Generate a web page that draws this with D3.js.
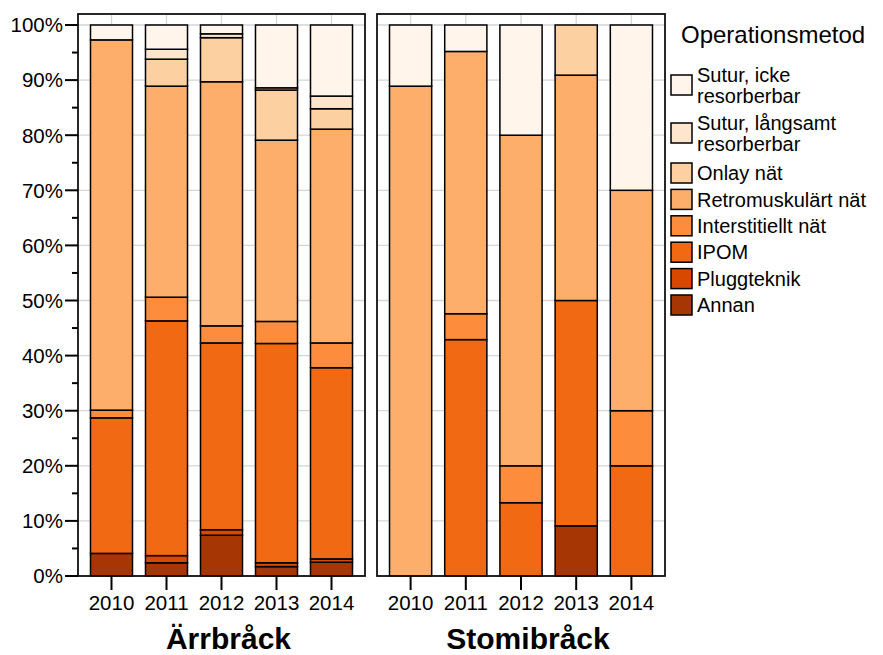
<!DOCTYPE html>
<html>
<head>
<meta charset="utf-8">
<script src="https://cdn.jsdelivr.net/npm/d3@7"></script>
<style>
  html, body { margin: 0; padding: 0; background: #fff; }
  svg { display: block; font-family: "Liberation Sans", Arial, Helvetica, sans-serif; }
</style>
</head>
<body>
<svg id="chart" width="883" height="655"></svg>
<script>
// Years on the x axis of each panel
const years = ["2010", "2011", "2012", "2013", "2014"];

// Operation methods, stacked from the bottom of each bar upwards
const methods = [
  "Annan", "Pluggteknik", "IPOM", "Interstitiellt nät",
  "Retromuskulärt nät", "Onlay nät", "Sutur, långsamt resorberbar", "Sutur, icke resorberbar"
];

// Legend labels (top to bottom), with line breaks
const legendLabels = [
  ["Sutur, icke", "resorberbar"],
  ["Sutur, långsamt", "resorberbar"],
  ["Onlay nät"],
  ["Retromuskulärt nät"],
  ["Interstitiellt nät"],
  ["IPOM"],
  ["Pluggteknik"],
  ["Annan"]
];

// Fill colours, same order as methods (dark at the bottom)
const methodColors = ["#a63603", "#d94801", "#f16913", "#fd8d3c", "#fdae6b", "#fdd0a2", "#fee6ce", "#fff5eb"];

// Ärrbråck: share (%) per year for each method
const arrAnnan      = [4.1, 2.4, 7.4, 1.7, 2.5];
const arrPlugg      = [0.0, 1.3, 1.0, 0.7, 0.6];
const arrIpom       = [24.6, 42.6, 33.9, 39.8, 34.7];
const arrInterst    = [1.4, 4.3, 3.1, 4.0, 4.5];
const arrRetro      = [67.2, 38.3, 44.3, 32.9, 38.8];
const arrOnlay      = [0.0, 4.9, 8.0, 9.1, 3.7];
const arrSuturLang  = [0.0, 1.8, 0.7, 0.4, 2.3];
const arrSuturIcke  = [2.7, 4.4, 1.6, 11.4, 12.9];

// Stomibråck: share (%) per year for each method
const stoAnnan      = [0.0, 0.0, 0.0, 9.1, 0.0];
const stoPlugg      = [0.0, 0.0, 0.0, 0.0, 0.0];
const stoIpom       = [0.0, 42.9, 13.3, 40.9, 20.0];
const stoInterst    = [0.0, 4.7, 6.7, 0.0, 10.0];
const stoRetro      = [88.9, 47.6, 60.0, 40.9, 40.0];
const stoOnlay      = [0.0, 0.0, 0.0, 9.1, 0.0];
const stoSuturLang  = [0.0, 0.0, 0.0, 0.0, 0.0];
const stoSuturIcke  = [11.1, 4.8, 20.0, 0.0, 30.0];

// Y axis ticks
const yMajorTicks = [0, 10, 20, 30, 40, 50, 60, 70, 80, 90, 100];
const yMinorTicks = [5, 15, 25, 35, 45, 55, 65, 75, 85, 95];

const panelNames = ["Ärrbråck", "Stomibråck"];
const legendTitle = "Operationsmetod";

const panelSeries = [
  [arrAnnan, arrPlugg, arrIpom, arrInterst, arrRetro, arrOnlay, arrSuturLang, arrSuturIcke],
  [stoAnnan, stoPlugg, stoIpom, stoInterst, stoRetro, stoOnlay, stoSuturLang, stoSuturIcke]
];

// Build row tables for d3.stack
function toRows(series) {
  return years.map((yr, i) => {
    const row = { year: yr };
    methods.forEach((m, k) => { row[m] = series[k][i]; });
    return row;
  });
}

const svg = d3.select("#chart");
const color = d3.scaleOrdinal().domain(methods).range(methodColors);

const plotTop = 14, plotBottom = 576;
const y = d3.scaleLinear().domain([0, 100]).range([plotBottom, 25]);
const panels = [{ x0: 78, x1: 365 }, { x0: 377, x1: 665 }];
const stack = d3.stack().keys(methods);

panels.forEach((p, pi) => {
  const x = d3.scaleBand().domain(years)
    .range([p.x0 + 6, p.x1 - 6])
    .paddingInner(0.236).paddingOuter(0.118);
  const g = svg.append("g");

  // grid lines
  g.selectAll("line.hgrid").data(yMajorTicks).join("line")
    .attr("x1", p.x0).attr("x2", p.x1)
    .attr("y1", d => y(d)).attr("y2", d => y(d))
    .attr("stroke", "#d6d6d6").attr("stroke-width", 1.3);
  g.selectAll("line.vgrid").data(years).join("line")
    .attr("x1", d => x(d) + x.bandwidth() / 2).attr("x2", d => x(d) + x.bandwidth() / 2)
    .attr("y1", plotTop).attr("y2", plotBottom)
    .attr("stroke", "#d6d6d6").attr("stroke-width", 1.3);

  // stacked bars
  const layers = stack(toRows(panelSeries[pi]));
  layers.forEach(layer => {
    g.append("g")
      .selectAll("rect")
      .data(layer.filter(d => d[1] - d[0] > 0))
      .join("rect")
      .attr("x", d => x(d.data.year))
      .attr("width", x.bandwidth())
      .attr("y", d => y(d[1]))
      .attr("height", d => y(d[0]) - y(d[1]))
      .attr("fill", color(layer.key))
      .attr("stroke", "#000")
      .attr("stroke-width", 1.5);
  });

  // panel frame
  g.append("rect")
    .attr("x", p.x0).attr("y", plotTop)
    .attr("width", p.x1 - p.x0).attr("height", plotBottom - plotTop)
    .attr("fill", "none").attr("stroke", "#111").attr("stroke-width", 1.8);

  // x axis ticks and labels
  const xa = g.append("g");
  xa.selectAll("line").data(years).join("line")
    .attr("x1", d => x(d) + x.bandwidth() / 2).attr("x2", d => x(d) + x.bandwidth() / 2)
    .attr("y1", plotBottom).attr("y2", plotBottom + 14)
    .attr("stroke", "#000").attr("stroke-width", 2);
  xa.selectAll("text").data(years).join("text")
    .attr("x", d => x(d) + x.bandwidth() / 2)
    .attr("y", 610)
    .attr("text-anchor", "middle")
    .attr("font-size", 20.5)
    .attr("fill", "#000")
    .text(d => d);

  // panel label
  g.append("text")
    .attr("x", (p.x0 + p.x1) / 2 + 7)
    .attr("y", 649)
    .attr("text-anchor", "middle")
    .attr("font-size", 30)
    .attr("font-weight", "bold")
    .attr("fill", "#000")
    .text(panelNames[pi]);
});

// y axis on the left panel
const ya = svg.append("g");
const ax = panels[0].x0;
ya.selectAll("line.major").data(yMajorTicks).join("line")
  .attr("x1", ax - 13).attr("x2", ax)
  .attr("y1", d => y(d)).attr("y2", d => y(d))
  .attr("stroke", "#000").attr("stroke-width", 2);
ya.selectAll("line.minor").data(yMinorTicks).join("line")
  .attr("x1", ax - 6).attr("x2", ax)
  .attr("y1", d => y(d)).attr("y2", d => y(d))
  .attr("stroke", "#000").attr("stroke-width", 2);
ya.selectAll("text").data(yMajorTicks).join("text")
  .attr("x", ax - 15)
  .attr("y", d => y(d))
  .attr("dy", "0.36em")
  .attr("text-anchor", "end")
  .attr("font-size", 20.5)
  .attr("fill", "#000")
  .text(d => d + "%");

// legend
const lg = svg.append("g");
lg.append("text")
  .attr("x", 681).attr("y", 43)
  .attr("font-size", 24)
  .attr("fill", "#000")
  .text(legendTitle);

const legendCenters = [85, 133, 173, 199.4, 225.8, 252.2, 278.6, 305];
const legendColors = methodColors.slice().reverse();
legendLabels.forEach((lines, i) => {
  const cy = legendCenters[i];
  lg.append("rect")
    .attr("x", 671).attr("y", cy - 10)
    .attr("width", 21).attr("height", 20)
    .attr("fill", legendColors[i])
    .attr("stroke", "#000").attr("stroke-width", 1.5);
  const t = lg.append("text")
    .attr("x", 697)
    .attr("font-size", 20)
    .attr("fill", "#000");
  const lh = 21;
  lines.forEach((ln, j) => {
    t.append("tspan")
      .attr("x", 697)
      .attr("y", cy + (j - (lines.length - 1) / 2) * lh)
      .attr("dy", "0.36em")
      .text(ln);
  });
});
</script>
</body>
</html>
